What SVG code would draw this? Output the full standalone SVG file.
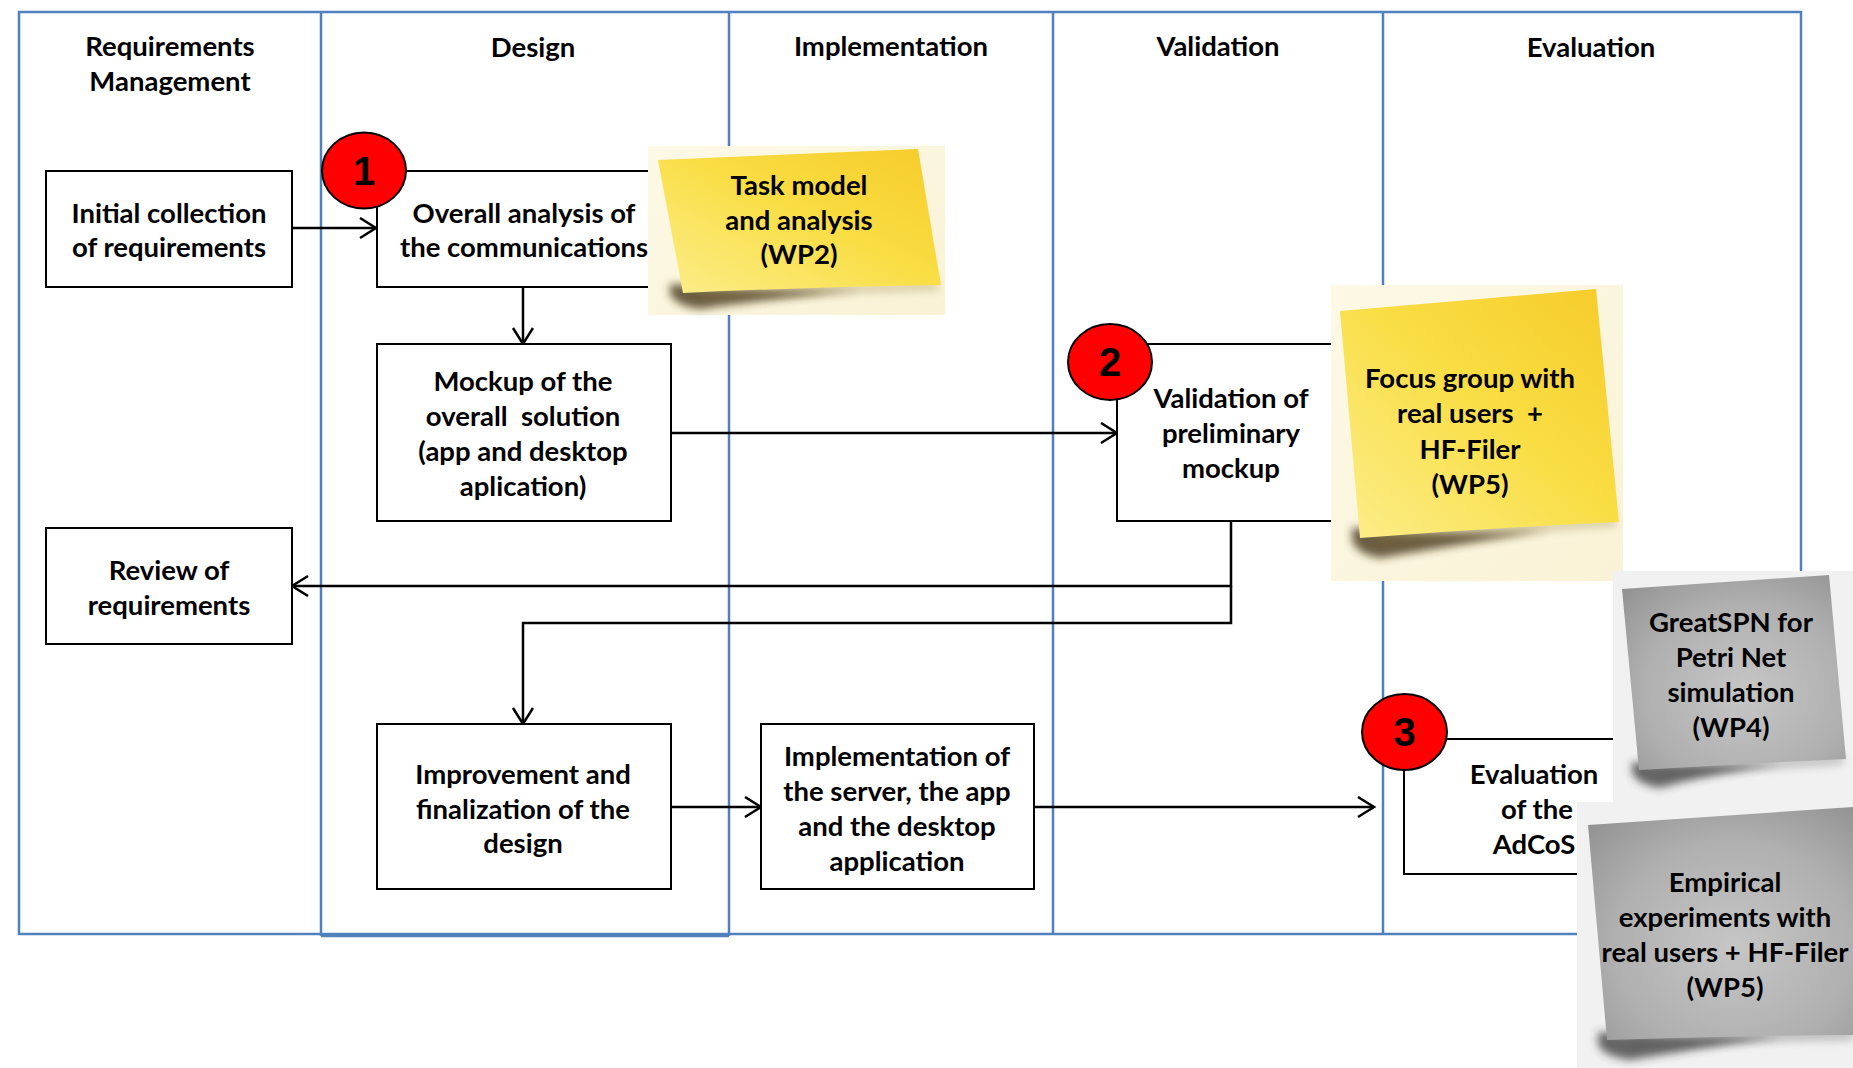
<svg xmlns="http://www.w3.org/2000/svg" width="1853" height="1068" viewBox="0 0 1853 1068">
<style>
.lane{fill:none;stroke:#4F81BD;stroke-width:2.5}
.box{fill:#fff;stroke:#000;stroke-width:2}
.t{font-family:Lato,"Liberation Sans",sans-serif;font-weight:bold;font-size:27.5px;text-anchor:middle;fill:#000}
.num{font-family:"Liberation Sans",Arial,sans-serif;font-weight:bold;font-size:40px;text-anchor:middle;fill:#000}
.badge{fill:#FF0000;stroke:#000;stroke-width:2}
.con{fill:none;stroke:#000;stroke-width:2.5}
.shy{fill:#3a2c10;opacity:0.75}
.shg{fill:#2a2a2a;opacity:0.7}
</style>
<defs>
<marker id="arr" markerUnits="userSpaceOnUse" markerWidth="20" markerHeight="24" refX="17" refY="11" orient="auto">
<path d="M1,1 L17,11 L1,21" fill="none" stroke="#000" stroke-width="2.5"/>
</marker>
<filter id="blur" x="-30%" y="-80%" width="160%" height="260%"><feGaussianBlur stdDeviation="4"/></filter>
<linearGradient id="yel" x1="1" y1="0" x2="0" y2="1">
<stop offset="0" stop-color="#F6CB2A"/>
<stop offset="0.45" stop-color="#F9DD42"/>
<stop offset="1" stop-color="#FCEE8C"/>
</linearGradient>
<linearGradient id="cream" x1="0" y1="0" x2="1" y2="1">
<stop offset="0" stop-color="#FDF9E6"/>
<stop offset="1" stop-color="#F9F2D6"/>
</linearGradient>
<radialGradient id="gray" cx="0.55" cy="0.6" r="0.75">
<stop offset="0" stop-color="#C6C6C6"/>
<stop offset="0.6" stop-color="#B0B0B0"/>
<stop offset="1" stop-color="#939393"/>
</radialGradient>
<linearGradient id="fade" x1="0" y1="0" x2="1" y2="0">
<stop offset="0" stop-color="#000" stop-opacity="1"/>
<stop offset="1" stop-color="#000" stop-opacity="0"/>
</linearGradient>
</defs>

<g id="lanes">
<rect class="lane" x="19" y="12" width="1782" height="922"/>
<line class="lane" x1="321" y1="12" x2="321" y2="936"/>
<line class="lane" x1="729" y1="12" x2="729" y2="936"/>
<line class="lane" x1="321" y1="936" x2="729" y2="936"/>
<line class="lane" x1="1053" y1="12" x2="1053" y2="934"/>
<line class="lane" x1="1383" y1="12" x2="1383" y2="934"/>
<text class="t" x="170" y="56">Requirements</text>
<text class="t" x="170" y="91">Management</text>
<text class="t" x="533" y="57">Design</text>
<text class="t" x="891" y="56">Implementation</text>
<text class="t" x="1218" y="56">Validation</text>
<text class="t" x="1591" y="57">Evaluation</text>
</g>

<g id="connectors">
<path class="con" d="M292,228 H376" marker-end="url(#arr)"/>
<path class="con" d="M523,287 V344" marker-end="url(#arr)"/>
<path class="con" d="M671,433 H1117" marker-end="url(#arr)"/>
<path class="con" d="M1231,521 V586 H292" marker-end="url(#arr)"/>
<path class="con" d="M1231,586 V623 H523 V724" marker-end="url(#arr)"/>
<path class="con" d="M671,807 H761" marker-end="url(#arr)"/>
<path class="con" d="M1034,807 H1374" marker-end="url(#arr)"/>
</g>

<g id="initial-collection">
<rect class="box" x="46" y="171" width="246" height="116"/>
<text class="t" x="169" y="223">Initial collection</text>
<text class="t" x="169" y="257">of requirements</text>
</g>

<g id="overall-analysis">
<rect class="box" x="377" y="171" width="294" height="116"/>
<text class="t" x="524" y="223">Overall analysis of</text>
<text class="t" x="524" y="257">the communications</text>
<ellipse class="badge" cx="364" cy="170.5" rx="42" ry="38"/>
<text class="num" x="364" y="185">1</text>
</g>

<g id="mockup">
<rect class="box" x="377" y="344" width="294" height="177"/>
<text class="t" x="523" y="391">Mockup of the</text>
<text class="t" x="523" y="426" xml:space="preserve">overall  solution</text>
<text class="t" x="523" y="461">(app and desktop</text>
<text class="t" x="523" y="496">aplication)</text>
</g>

<g id="review">
<rect class="box" x="46" y="528" width="246" height="116"/>
<text class="t" x="169" y="580">Review of</text>
<text class="t" x="169" y="615">requirements</text>
</g>

<g id="validation">
<rect class="box" x="1117" y="344" width="228" height="177"/>
<text class="t" x="1231" y="408">Validation of</text>
<text class="t" x="1231" y="443">preliminary</text>
<text class="t" x="1231" y="478">mockup</text>
<ellipse class="badge" cx="1110" cy="362" rx="42" ry="38"/>
<text class="num" x="1110" y="376">2</text>
</g>

<g id="improvement">
<rect class="box" x="377" y="724" width="294" height="165"/>
<text class="t" x="523" y="784">Improvement and</text>
<text class="t" x="523" y="819">finalization of the</text>
<text class="t" x="523" y="853">design</text>
</g>

<g id="implementation">
<rect class="box" x="761" y="724" width="273" height="165"/>
<text class="t" x="897" y="766">Implementation of</text>
<text class="t" x="897" y="801">the server, the app</text>
<text class="t" x="897" y="836">and the desktop</text>
<text class="t" x="897" y="871">application</text>
</g>

<g id="evaluation">
<rect class="box" x="1404" y="739" width="260" height="135"/>
<text class="t" x="1534" y="784">Evaluation</text>
<text class="t" x="1537" y="819">of the</text>
<text class="t" x="1534" y="854">AdCoS</text>
<ellipse class="badge" cx="1404.5" cy="732" rx="42.5" ry="38"/>
<text class="num" x="1404.5" y="746">3</text>
</g>

<g id="note-task-model">
<rect x="648" y="146" width="297" height="169" fill="url(#cream)"/>
<path d="M670,284 Q760,292 860,290 Q760,300 700,309 Q676,306 670,294 Z" class="shy" filter="url(#blur)"/>
<path d="M700,290 Q820,286 938,282 L938,290 Q820,294 700,298 Z" fill="#8a7a40" opacity="0.35" filter="url(#blur)"/>
<path d="M658,160 L918,149 L941,285 Q810,287 683,293 Z" fill="url(#yel)"/>
<text class="t" x="799" y="195">Task model</text>
<text class="t" x="799" y="230">and analysis</text>
<text class="t" x="799" y="264">(WP2)</text>
</g>

<g id="note-focus-group">
<rect x="1331" y="285" width="292" height="296" fill="url(#cream)"/>
<path d="M1352,528 Q1450,536 1550,530 Q1450,546 1380,558 Q1356,554 1352,540 Z" class="shy" filter="url(#blur)"/>
<path d="M1380,534 Q1500,526 1616,518 L1616,526 Q1500,534 1380,542 Z" fill="#8a7a40" opacity="0.35" filter="url(#blur)"/>
<path d="M1340,311 L1596,289 L1619,522 Q1490,528 1360,538 Z" fill="url(#yel)"/>
<text class="t" x="1470" y="388">Focus group with</text>
<text class="t" x="1470" y="423" xml:space="preserve">real users  +</text>
<text class="t" x="1470" y="459">HF-Filer</text>
<text class="t" x="1470" y="494">(WP5)</text>
</g>

<g id="note-greatspn">
<rect x="1613" y="571" width="240" height="233" fill="#F1F1F1"/>
<path d="M1632,762 Q1700,768 1780,764 Q1700,776 1660,788 Q1636,784 1632,772 Z" class="shg" filter="url(#blur)"/>
<path d="M1660,766 Q1750,762 1843,756 L1843,764 Q1750,770 1660,774 Z" fill="#555" opacity="0.35" filter="url(#blur)"/>
<path d="M1622,589 L1829,575 L1846,759 Q1740,764 1639,770 Z" fill="url(#gray)"/>
<text class="t" x="1731" y="632">GreatSPN for</text>
<text class="t" x="1731" y="667">Petri Net</text>
<text class="t" x="1731" y="702">simulation</text>
<text class="t" x="1731" y="737">(WP4)</text>
</g>

<g id="note-empirical">
<rect x="1577" y="802" width="276" height="266" fill="#F1F1F1"/>
<path d="M1598,1032 Q1680,1040 1780,1036 Q1690,1050 1630,1060 Q1602,1056 1598,1044 Z" class="shg" filter="url(#blur)"/>
<path d="M1630,1036 Q1740,1032 1853,1030 L1853,1040 Q1740,1042 1630,1046 Z" fill="#555" opacity="0.35" filter="url(#blur)"/>
<path d="M1588,825 L1853,807 L1853,1035 Q1730,1036 1607,1040 Z" fill="url(#gray)"/>
<text class="t" x="1725" y="892">Empirical</text>
<text class="t" x="1725" y="927">experiments with</text>
<text class="t" x="1725" y="962">real users + HF-Filer</text>
<text class="t" x="1725" y="997">(WP5)</text>
</g>
</svg>
